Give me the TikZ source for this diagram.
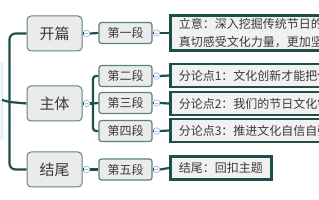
\documentclass[tikz,border=0pt]{standalone}
\usepackage{fontspec}
\setmainfont{Noto Sans CJK SC}
\definecolor{trunk}{HTML}{1F4F4A}
\definecolor{topicdraw}{HTML}{5B837E}
\definecolor{topicfill}{HTML}{EBEBEB}
\definecolor{txt}{HTML}{3A3A3A}
\definecolor{boxfill}{HTML}{F1F1F1}
\definecolor{btn}{HTML}{A9BCE0}
\definecolor{rootfill}{HTML}{DCE8F5}
\begin{document}
\begin{tikzpicture}[x=1pt,y=-1pt,
  topic/.style={draw=topicdraw,fill=topicfill,line width=1pt,rounded corners=4pt,
    minimum width=55pt,minimum height=35pt,inner sep=0pt,text=txt,
    font=\fontsize{15pt}{17pt}\selectfont},
  sub/.style={draw=topicdraw,fill=topicfill,line width=1.2pt,rounded corners=2.5pt,
    minimum width=53pt,minimum height=21pt,inner sep=0pt,text=txt,
    font=\fontsize{12pt}{14pt}\selectfont},
  tbox/.style={draw=trunk,fill=boxfill,line width=2.5pt,anchor=west,
    inner xsep=8.5pt,inner ysep=3pt,minimum height=23pt,text=txt,align=left,
    font=\fontsize{12pt}{18pt}\selectfont},
  wide/.style={text width=200pt},
  conn/.style={draw=trunk,line width=2.2pt},
  btnst/.style={circle,draw=btn,fill=white,line width=0.8pt,minimum size=6.5pt,inner sep=0pt,
    path picture={\draw[btn,line width=0.7pt] ([xshift=-1.8pt]path picture bounding box.center)--([xshift=1.8pt]path picture bounding box.center);}}
]
\useasboundingbox (0,0) rectangle (319,200);
\begin{scope}
\clip (0,0) rectangle (319,200);
% root (mostly off-canvas)
\node[draw=rootfill!80!blue!40,fill=rootfill!40,minimum width=20pt,minimum height=76pt,anchor=east,inner sep=0pt] (root) at (2,100) {};
% topics
\node[topic] (t1) at (54.5,33.5) {开篇};
\node[topic] (t2) at (54.5,103.5) {主体};
\node[topic] (t3) at (54.5,169.5) {结尾};
% trunk
\coordinate (rj) at (9.5,102);
\draw[conn,rounded corners=6pt] (t1.west) -| (rj) |- (t3.west);
\draw[conn] (root.east) -- (rj) -- (t2.west);
% subs
\node[sub] (s1) at (125.5,33) {第一段};
\node[sub] (s2) at (125.5,76) {第二段};
\node[sub] (s3) at (125.5,103) {第三段};
\node[sub] (s4) at (125.5,131) {第四段};
\node[sub] (s5) at (125.5,169.5) {第五段};
% buttons on topics
\node[btnst] (b1) at (86.5,33.5) {};
\node[btnst] (b2) at (86.5,103.5) {};
\node[btnst] (b3) at (86.5,169.5) {};
\draw[conn] (t1.east) -- (b1.west);
\draw[conn] (b1.east) -- (s1.west);
\draw[conn] (t2.east) -- (b2.west);
\draw[conn] (t3.east) -- (b3.west);
\draw[conn] (b3.east) -- (s5.west);
\coordinate (bj) at (93,103.5);
\draw[conn] (b2.east) -- (bj);
\draw[conn,rounded corners=3pt] (s2.west) -| (bj) |- (s4.west);
\draw[conn] (bj) -- (s3.west);
% text boxes
\node[tbox,wide] (x1) at (169,33) {立意：深入挖掘传统节日的文化内涵\\真切感受文化力量，更加坚定文化自信};
\node[tbox,wide] (x2) at (169,75.5) {分论点1：文化创新才能把传统节日};
\node[tbox,wide] (x3) at (169,103.5) {分论点2：我们的节日文化需要创新};
\node[tbox,wide] (x4) at (169,130.5) {分论点3：推进文化自信自强};
\node[tbox] (x5) at (169,168) {结尾：回扣主题};
% buttons on subs
\foreach \i/\y in {1/33,2/76,3/103,4/131,5/169.5}{
  \node[btnst] (c\i) at (156.5,\y) {};
  \draw[conn] (s\i.east) -- (c\i.west);
  \draw[conn] (c\i.east) -- (x\i.west);
}
\end{scope}
\end{tikzpicture}
\end{document}
